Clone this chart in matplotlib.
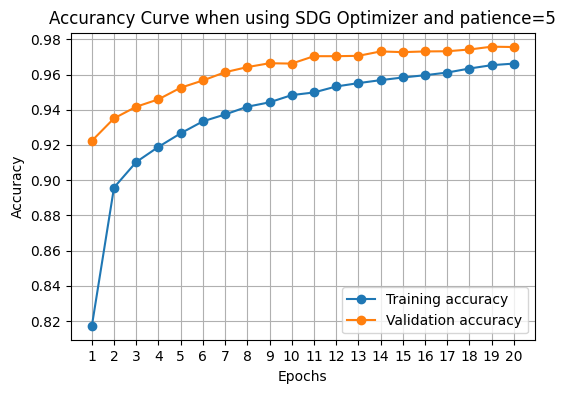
import matplotlib
matplotlib.use("Agg")
import matplotlib.pyplot as plt

epochs = list(range(1, 21))
train_acc = [0.8170, 0.8958, 0.9103, 0.9189, 0.9266, 0.9334, 0.9373, 0.9417, 0.9442, 0.9483,
             0.9498, 0.9532, 0.9551, 0.9568, 0.9583, 0.9596, 0.9611, 0.9634, 0.9653, 0.9662]
val_acc = [0.9223, 0.9351, 0.9417, 0.9459, 0.9525, 0.9566, 0.9613, 0.9642, 0.9664, 0.9662,
           0.9704, 0.9704, 0.9706, 0.9731, 0.9727, 0.9731, 0.9732, 0.9742, 0.9758, 0.9756]

fig = plt.figure(figsize=(5.66, 3.93), dpi=100)
ax = fig.add_axes([0.1249, 0.1341, 0.9452 - 0.1249, 0.9168 - 0.1341])
ax.plot(epochs, train_acc, marker='o', label='Training accuracy')
ax.plot(epochs, val_acc, marker='o', label='Validation accuracy')
ax.set_title('Accurancy Curve when using SDG Optimizer and patience=5')
ax.set_xlabel('Epochs')
ax.set_ylabel('Accuracy')
ax.set_xticks(epochs)
ax.grid(True)
ax.legend(loc='lower right')
fig.savefig('out.png', dpi=100)
